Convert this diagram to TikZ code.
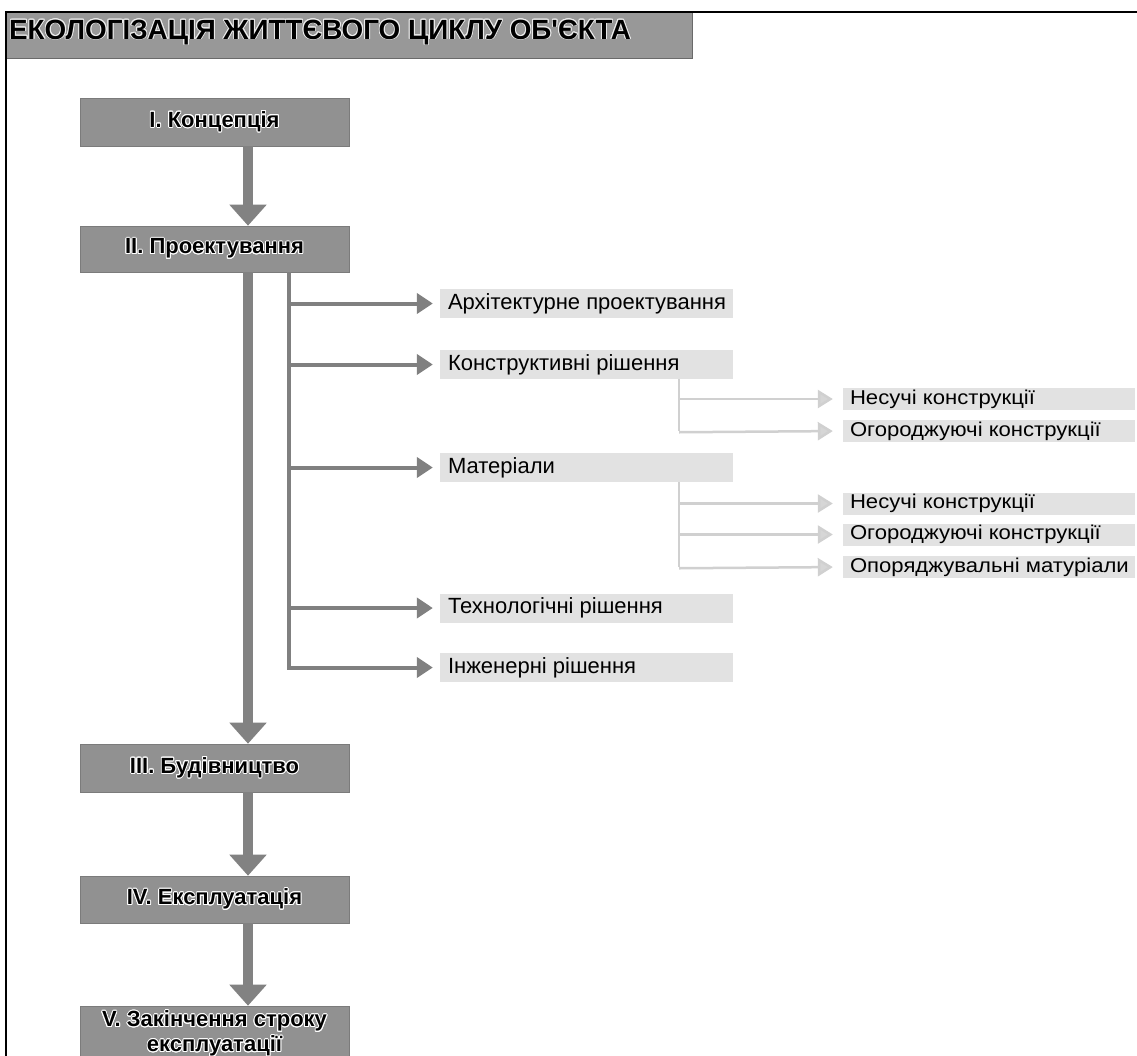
\documentclass[tikz,border=0pt]{standalone}
\usepackage{fontspec}
\setmainfont{Liberation Sans}
\newfontfamily\plainsans{Liberation Sans}
\newfontfamily\widesans[FakeStretch=1.105]{Liberation Sans}
\usepackage{contour}
\contourlength{0.9pt}
\usetikzlibrary{arrows.meta}
\definecolor{barGray}{RGB}{152,152,152}
\definecolor{boxGray}{RGB}{145,145,145}
\definecolor{arrGray}{RGB}{130,130,130}
\definecolor{midGray}{RGB}{128,128,128}
\definecolor{lightBox}{RGB}{226,226,226}
\definecolor{lightLine}{RGB}{208,208,208}
\definecolor{lightHead}{RGB}{214,214,214}
\begin{document}
\begin{tikzpicture}[x=1pt,y=-1pt,
  mbox/.style={fill=boxGray, draw=boxGray!85!black, line width=0.6pt, minimum width=269pt, inner sep=0pt,
    font=\bfseries\fontsize{22}{25}\selectfont, align=center},
  lbox/.style={fill=lightBox, minimum width=293pt, minimum height=29pt, inner sep=0pt},
  ltext/.style={anchor=west, inner sep=0pt, text height=16pt, text depth=5pt, font=\fontsize{22}{24}\selectfont, xshift=8pt},
  sbox/.style={fill=lightBox, minimum width=292pt, minimum height=22pt, inner sep=0pt},
  stext/.style={anchor=west, inner sep=0pt, text height=14.5pt, text depth=4.5pt, font=\widesans\fontsize{20}{22}\selectfont, xshift=7pt},
  bigarrow/.style={draw=arrGray, line width=10pt, -{Triangle[width=36pt,length=21pt]}},
  brarrow/.style={draw=midGray, line width=4pt, -{Triangle[width=20pt,length=16pt]}, shorten >=7pt},
  subline/.style={draw=lightLine, line width=2.5pt},
  subarrow/.style={draw=lightLine, line width=2.5pt, -{Triangle[width=18pt,length=15pt,fill=lightHead]}, shorten >=10pt}
]
\useasboundingbox (0,0) rectangle (1137,1055);
\clip (0,0) rectangle (1137,1055);
\fill[white] (0,0) rectangle (1137,1055);

% title bar
\node[fill=barGray, draw=barGray!70!black, line width=0.8pt, minimum width=686pt, minimum height=46pt, inner sep=0pt, anchor=north west] (tbar) at (6,12) {};
\node[anchor=base west, inner sep=0pt, font=\plainsans\bfseries\fontsize{27.8}{30}\selectfont] (ttl) at (9,39)
  {\contour{white!85!gray}{ЕКОЛОГІЗАЦІЯ ЖИТТЄВОГО ЦИКЛУ ОБ'ЄКТА}};

% frame
\draw[line width=2.5pt, line join=miter] (6,1070) -- (6,12) -- (1145,12);

% main stages
\node[mbox, minimum height=48pt] (s1) at (214.5,122) {\contour{white}{I. Концепція}};
\node[mbox, minimum height=46pt] (s2) at (214.5,249) {\contour{white}{II. Проектування}};
\node[mbox, minimum height=48pt] (s3) at (214.5,768) {\contour{white}{III. Будівництво}};
\node[mbox, minimum height=47pt] (s4) at (214.5,899.5) {\contour{white}{IV. Експлуатація}};
\node[mbox, minimum height=56pt] (s5) at (214.5,1034) {\contour{white}{V. Закінчення строку}\\[0pt]\contour{white}{експлуатації}};

\coordinate (ax) at (248,0);
\coordinate (tx) at (289,0);
\coordinate (sx) at (679,0);

\draw[bigarrow] (s1.south -| ax) -- (s2.north -| ax);
\draw[bigarrow] (s2.south -| ax) -- (s3.north -| ax);
\draw[bigarrow] (s3.south -| ax) -- (s4.north -| ax);
\draw[bigarrow] (s4.south -| ax) -- (s5.north -| ax);

% design branches
\node[lbox] (b1) at (586.5,303.5) {};
\node[lbox] (b2) at (586.5,364.5) {};
\node[lbox] (b3) at (586.5,467.5) {};
\node[lbox] (b4) at (586.5,608) {};
\node[lbox] (b5) at (586.5,667.5) {};
\node[ltext] (b1t) at (b1.west) {Архітектурне проектування};
\node[ltext] (b2t) at (b2.west) {Конструктивні рішення};
\node[ltext] (b3t) at (b3.west) {Матеріали};
\node[ltext] (b4t) at (b4.west) {Технологічні рішення};
\node[ltext] (b5t) at (b5.west) {Інженерні рішення};

\draw[brarrow, line join=miter] (s2.south -| tx) -- (b5.west -| tx) -- (b5.west);
\draw[brarrow] (b1.west -| tx) -- (b1.west);
\draw[brarrow] (b2.west -| tx) -- (b2.west);
\draw[brarrow] (b3.west -| tx) -- (b3.west);
\draw[brarrow] (b4.west -| tx) -- (b4.west);

% sub-branches
\node[sbox] (k1) at (989,399) {};
\node[sbox] (k2) at (989,431) {};
\node[sbox] (m1) at (989,503.5) {};
\node[sbox] (m2) at (989,534.5) {};
\node[sbox] (m3) at (989,567) {};
\node[stext] (k1t) at (k1.west) {Несучі конструкції};
\node[stext] (k2t) at (k2.west) {Огороджуючі конструкції};
\node[stext] (m1t) at (m1.west) {Несучі конструкції};
\node[stext] (m2t) at (m2.west) {Огороджуючі конструкції};
\node[stext] (m3t) at (m3.west) {Опоряджувальні матуріали};

\draw[subline] (b2.south -| sx) -- (k2.west -| sx);
\draw[subarrow] (k1.west -| sx) -- (k1.west);
\draw[subarrow] ([yshift=-1.25pt]k2.west -| sx) -- (k2.west);
\draw[subline] (b3.south -| sx) -- (m3.west -| sx);
\draw[subarrow] (m1.west -| sx) -- (m1.west);
\draw[subarrow] (m2.west -| sx) -- (m2.west);
\draw[subarrow] ([yshift=-1.25pt]m3.west -| sx) -- (m3.west);
\end{tikzpicture}
\end{document}
